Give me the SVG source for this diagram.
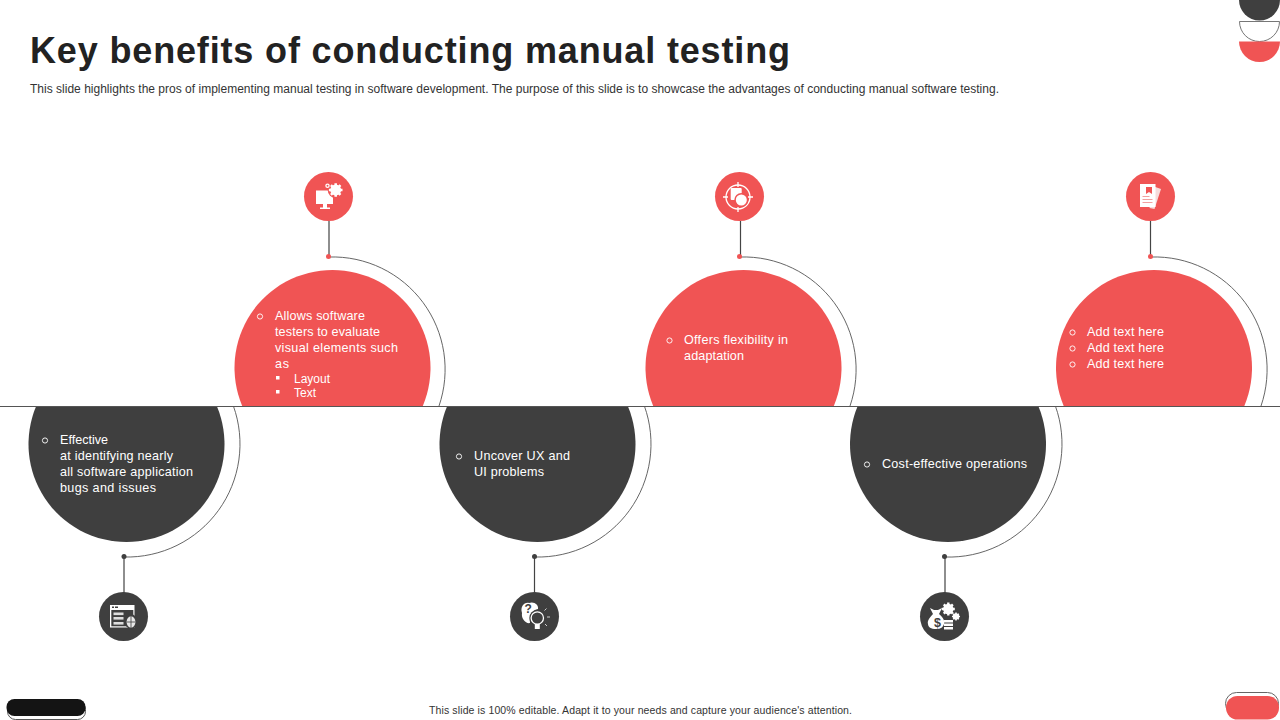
<svg xmlns="http://www.w3.org/2000/svg" width="1280" height="720" viewBox="0 0 1280 720">
<style>
text{font-family:"Liberation Sans",Arial,sans-serif}
.t{font-size:12.6px;fill:#fff}
.s{font-size:12px;fill:#fff}
.red{fill:#f05454}
.dark{fill:#3f3f3f}
.arc{fill:none;stroke:#555;stroke-width:.9}
.stem{fill:none;stroke:#444;stroke-width:1.2}
.bul{fill:none;stroke:#fff;stroke-width:.9}
.w{fill:#fff}
.wl{fill:none;stroke:#fff;stroke-width:1.3}
</style>
<defs>
<g id="gear"><circle r="4" fill="none" stroke="#fff" stroke-width="2.4"/><path d="M-1.2-6.5h2.4v13h-2.400zM-6.500-1.200h13v2.400h-13zM-5.400-3.700l1.700-1.700 9.100 9.100-1.700 1.700zM3.700-5.400l1.700 1.700-9.100 9.100-1.700-1.700z" fill="#fff"/></g>
</defs>
<rect width="1280" height="720" fill="#fff"/>
<text x="30" y="63" font-size="36" font-weight="700" fill="#222" textLength="760" lengthAdjust="spacing">Key benefits of conducting manual testing</text>
<text x="30" y="93" font-size="12" fill="#333" textLength="969" lengthAdjust="spacing">This slide highlights the pros of implementing manual testing in software development. The purpose of this slide is to showcase the advantages of conducting manual software testing.</text>

<g id="connectors">
<path class="arc" d="M329 257A112.500 112.500 0 0 1 439 406"/>
<path class="arc" d="M740 257A112.500 112.500 0 0 1 850 406"/>
<path class="arc" d="M1151 257A112.500 112.500 0 0 1 1261 406"/>
<path class="arc" d="M124 557A113 113 0 0 0 233.400 406"/>
<path class="arc" d="M535 557A113 113 0 0 0 644.400 406"/>
<path class="arc" d="M945 557A113 113 0 0 0 1055.400 406"/>
<path class="stem" d="M329 221V257M740.500 221V257M1150.500 221V257M124 557V593M534.500 557V593M945 557V593"/>
<circle class="red" cx="328.500" cy="256.500" r="2.500"/>
<circle class="red" cx="739.500" cy="256.500" r="2.500"/>
<circle class="red" cx="1150.500" cy="256.500" r="2.500"/>
<circle class="dark" cx="124" cy="556.500" r="2.500"/>
<circle class="dark" cx="534.500" cy="556.500" r="2.500"/>
<circle class="dark" cx="944.500" cy="556.500" r="2.500"/>
</g>

<g id="node-1">
<path class="dark" d="M36.200 406A98 98 0 1 0 216.800 406Z"/>
<circle class="bul" cx="45" cy="440.500" r="2.600"/>
<text class="t" x="60" y="444" textLength="48">Effective</text>
<text class="t" x="60" y="460" textLength="113">at identifying nearly</text>
<text class="t" x="60" y="476" textLength="133">all software application</text>
<text class="t" x="60" y="492" textLength="96">bugs and issues</text>
<circle class="dark" cx="123.500" cy="616.500" r="24.500"/>
<g id="icon-1"><rect class="w" x="110" y="605" width="24.500" height="22.500"/><rect class="dark" x="111.300" y="610" width="22" height="16.300"/><rect x="112" y="606.500" width="2" height="1.500" fill="#3f3f3f"/><rect x="115" y="606.500" width="3" height="1.500" fill="#3f3f3f"/><rect x="113.500" y="612.500" width="10" height="2.600" fill="#ddd"/><rect x="113.500" y="617" width="10" height="2.600" fill="#ddd"/><rect x="113.500" y="622" width="10" height="2.600" fill="#ddd"/><ellipse cx="131" cy="621.500" rx="6.300" ry="7.300" fill="#3f3f3f"/><ellipse cx="131" cy="622" rx="4.400" ry="5.800" fill="#e8e8e8"/><path d="M131 616v12M127 622h8" stroke="#3f3f3f" stroke-width=".8"/></g>
</g>

<g id="node-2">
<path class="red" d="M242.200 406A98 98 0 1 1 422.800 406Z"/>
<circle class="bul" cx="260" cy="316.500" r="2.600"/>
<text class="t" x="275" y="320" textLength="90">Allows software</text>
<text class="t" x="275" y="336" textLength="105">testers to evaluate</text>
<text class="t" x="275" y="352" textLength="123">visual elements such</text>
<text class="t" x="275" y="368" textLength="14">as</text>
<rect class="w" x="276" y="376" width="3.500" height="3.500"/>
<text class="s" x="294" y="383">Layout</text>
<rect class="w" x="276" y="390" width="3.500" height="3.500"/>
<text class="s" x="294" y="397">Text</text>
<circle class="red" cx="328.500" cy="196.500" r="24.500"/>
<g id="icon-2"><rect class="w" x="316" y="190.500" width="17" height="13.500"/><path class="w" d="M323 204h4v3.500h3v1.500h-10v-1.500h3z"/><circle class="red" cx="335.700" cy="190" r="8"/><use href="#gear" transform="translate(335.700 190) scale(1.050)"/><circle class="wl" cx="327.500" cy="185.700" r="1.600"/></g>
</g>

<g id="node-3">
<path class="dark" d="M447.200 406A98 98 0 1 0 627.800 406Z"/>
<circle class="bul" cx="459" cy="456.500" r="2.600"/>
<text class="t" x="474" y="460" textLength="96">Uncover UX and</text>
<text class="t" x="474" y="476" textLength="70">UI problems</text>
<circle class="dark" cx="534.500" cy="616.500" r="24.500"/>
<g id="icon-3"><path class="w" d="M522 613c-2-6 2-11 7-10 5-2 10 2 9 6-5 1-9 5-8 14-4 1-9-4-8-10z"/><text x="524.500" y="613" font-size="12" font-weight="700" fill="#3f3f3f">?</text><circle class="dark" cx="537.300" cy="618" r="8"/><circle class="wl" cx="537.300" cy="618" r="6.200"/><path class="w" d="M534.800 624h5v5h-5z"/><path d="M544.500 610.500l2-2M547 617h3M545 624l2 2" stroke="#ccc" fill="none"/></g>
</g>

<g id="node-4">
<path class="red" d="M653.200 406A98 98 0 1 1 833.800 406Z"/>
<circle class="bul" cx="669.500" cy="340.500" r="2.600"/>
<text class="t" x="684" y="344" textLength="104">Offers flexibility in</text>
<text class="t" x="684" y="360" textLength="60">adaptation</text>
<circle class="red" cx="739.500" cy="196.500" r="24.500"/>
<g id="icon-4"><circle class="wl" cx="738" cy="197" r="12"/><path class="wl" d="M738 182v5M738 207v5M723 197h5M748 197h5"/><rect class="w" x="730.700" y="188" width="11" height="12" rx="1"/><circle class="red" cx="741.300" cy="200" r="7"/><circle class="w" cx="741.300" cy="200" r="5.500"/></g>
</g>

<g id="node-5">
<path class="dark" d="M857.700 406A98 98 0 1 0 1038.300 406Z"/>
<circle class="bul" cx="867" cy="464.500" r="2.600"/>
<text class="t" x="882" y="468" textLength="145">Cost-effective operations</text>
<circle class="dark" cx="944.500" cy="616.500" r="24.500"/>
<g id="icon-5"><path class="w" d="M930 608l4 2h4l4-2-3 6c4 3 6 7 5 10-1 3-3 5-8 5s-8-2-8-5c-1-3 2-7 5-10z"/><text x="934" y="626.500" font-size="12.500" font-weight="700" fill="#3f3f3f">$</text><rect class="w" x="944" y="620" width="9" height="2.500"/><rect class="w" x="944" y="623.500" width="9" height="2.500"/><rect class="w" x="944" y="627" width="9" height="2.500"/><use href="#gear" transform="translate(948.300 609)"/><use href="#gear" transform="translate(956 616.500) scale(.62)"/></g>
</g>

<g id="node-6">
<path class="red" d="M1063.700 406A98 98 0 1 1 1244.300 406Z"/>
<circle class="bul" cx="1072.500" cy="332.500" r="2.600"/>
<circle class="bul" cx="1072.500" cy="348.500" r="2.600"/>
<circle class="bul" cx="1072.500" cy="364.500" r="2.600"/>
<text class="t" x="1087" y="336" textLength="77">Add text here</text>
<text class="t" x="1087" y="352" textLength="77">Add text here</text>
<text class="t" x="1087" y="368" textLength="77">Add text here</text>
<circle class="red" cx="1150.500" cy="196.500" r="24.500"/>
<g id="icon-6"><path d="M1154 186.500l7 2.500-6.500 20-5-1z" fill="#f6dcdc"/><rect class="w" x="1140" y="184" width="15.500" height="23"/><path d="M1146 187h6v7l-3-2-3 2z" fill="#f05454"/><path d="M1142.500 196.500h7M1142.500 199.500h10M1142.500 202.500h10" stroke="#f2a0a0"/></g>
</g>

<path id="baseline" d="M0 406.500H1280" stroke="#555" stroke-width="1"/>

<g id="corner-top">
<path class="dark" d="M1239 0h41a20.500 20.500 0 0 1-41 0z"/>
<path d="M1239.500 21.500h40a20 20 0 0 1-40 0z" fill="#fff" stroke="#666" stroke-width=".9"/>
<path class="red" d="M1239 41.500h41a20.500 20.500 0 0 1-41 0z"/>
</g>
<g id="corner-left">
<rect x="7.500" y="701.500" width="78" height="18" rx="8" fill="#fff" stroke="#555"/>
<rect x="6.500" y="699" width="79" height="17" rx="8" fill="#141414"/>
</g>
<g id="corner-right">
<rect x="1225.500" y="692.500" width="53" height="22" rx="11" fill="#fff" stroke="#666"/>
<rect x="1226" y="696" width="53" height="23.500" rx="11.500" fill="#f05454"/>
</g>
<text x="429" y="714" font-size="10.500" fill="#333" textLength="423">This slide is 100% editable.  Adapt it to your needs and capture your audience's attention.</text>
</svg>
